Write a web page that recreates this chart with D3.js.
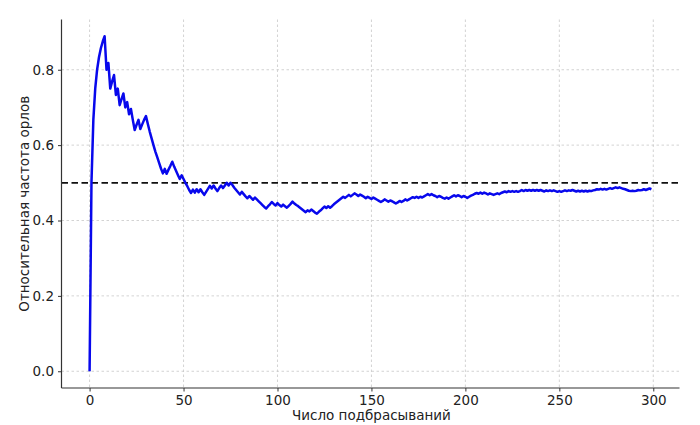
<!DOCTYPE html>
<html>
<head>
<meta charset="utf-8">
<script src="https://cdn.jsdelivr.net/npm/d3@7"></script>
<style>
  body { margin: 0; background: #fff; }
  svg { display: block; font-family: "DejaVu Sans", sans-serif; }
</style>
</head>
<body>
<svg width="700" height="425"></svg>
<script>
// running share of heads, one value per toss
var freq = [
  0.000, 0.500, 0.667, 0.750, 0.800, 0.833, 0.857, 0.875, 0.889, 0.800,
  0.818, 0.750, 0.769, 0.786, 0.733, 0.750, 0.706, 0.722, 0.737, 0.700,
  0.714, 0.682, 0.696, 0.667, 0.640, 0.654, 0.667, 0.643, 0.655, 0.667,
  0.677, 0.656, 0.636, 0.618, 0.600, 0.583, 0.568, 0.553, 0.538, 0.525,
  0.537, 0.524, 0.535, 0.545, 0.556, 0.543, 0.532, 0.521, 0.510, 0.520,
  0.510, 0.500, 0.491, 0.481, 0.473, 0.482, 0.474, 0.483, 0.475, 0.483,
  0.475, 0.468, 0.476, 0.484, 0.492, 0.485, 0.493, 0.485, 0.478, 0.486,
  0.493, 0.486, 0.493, 0.500, 0.493, 0.500, 0.494, 0.487, 0.481, 0.475,
  0.469, 0.476, 0.470, 0.464, 0.459, 0.465, 0.460, 0.455, 0.461, 0.456,
  0.451, 0.446, 0.441, 0.436, 0.432, 0.438, 0.443, 0.449, 0.444, 0.440,
  0.446, 0.441, 0.437, 0.442, 0.438, 0.434, 0.439, 0.444, 0.450, 0.445,
  0.441, 0.438, 0.434, 0.430, 0.426, 0.422, 0.427, 0.424, 0.429, 0.425,
  0.421, 0.418, 0.423, 0.427, 0.432, 0.437, 0.433, 0.438, 0.434, 0.438,
  0.443, 0.447, 0.451, 0.455, 0.459, 0.463, 0.460, 0.464, 0.468, 0.464,
  0.468, 0.472, 0.469, 0.465, 0.469, 0.466, 0.463, 0.459, 0.463, 0.460,
  0.457, 0.461, 0.458, 0.455, 0.452, 0.449, 0.452, 0.456, 0.453, 0.450,
  0.453, 0.451, 0.448, 0.445, 0.448, 0.452, 0.449, 0.452, 0.456, 0.453,
  0.456, 0.459, 0.462, 0.460, 0.463, 0.460, 0.463, 0.461, 0.464, 0.467,
  0.470, 0.467, 0.470, 0.467, 0.465, 0.462, 0.465, 0.463, 0.460, 0.458,
  0.461, 0.458, 0.461, 0.464, 0.467, 0.464, 0.467, 0.465, 0.462, 0.465,
  0.463, 0.460, 0.463, 0.466, 0.468, 0.471, 0.473, 0.471, 0.474, 0.471,
  0.474, 0.472, 0.469, 0.472, 0.470, 0.468, 0.470, 0.472, 0.470, 0.473,
  0.475, 0.477, 0.475, 0.478, 0.476, 0.478, 0.476, 0.478, 0.476, 0.478,
  0.481, 0.478, 0.481, 0.479, 0.481, 0.479, 0.481, 0.479, 0.481, 0.479,
  0.481, 0.479, 0.477, 0.480, 0.478, 0.480, 0.478, 0.480, 0.478, 0.476,
  0.478, 0.476, 0.478, 0.480, 0.478, 0.480, 0.479, 0.481, 0.479, 0.477,
  0.479, 0.477, 0.479, 0.477, 0.479, 0.477, 0.479, 0.478, 0.480, 0.481,
  0.483, 0.482, 0.484, 0.482, 0.484, 0.482, 0.484, 0.486, 0.484, 0.486,
  0.488, 0.486, 0.488, 0.486, 0.484, 0.483, 0.481, 0.479, 0.478, 0.479,
  0.478, 0.479, 0.481, 0.480, 0.481, 0.483, 0.481, 0.483, 0.485, 0.483
];
var expected = 0.5;
var xTicks = [0, 50, 100, 150, 200, 250, 300];
var yTicks = [0.0, 0.2, 0.4, 0.6, 0.8];
var xLabel = "Число подбрасываний";
var yLabel = "Относительная частота орлов";

var svg = d3.select("svg"),
    mLeft = 61.5, mRight = 679.5, mTop = 19.5, mBottom = 388;

var x = d3.scaleLinear().domain([-14.95, 313.95]).range([mLeft, mRight]);
var y = d3.scaleLinear().domain([-0.0444, 0.9333]).range([mBottom, mTop]);

// grid
var grid = svg.append("g").attr("stroke", "#c8c8c8").attr("stroke-width", 0.8)
    .attr("stroke-dasharray", "2.5,2.5");
grid.selectAll(".gx").data(xTicks).enter().append("line")
    .attr("x1", d => x(d)).attr("x2", d => x(d)).attr("y1", mTop).attr("y2", mBottom);
grid.selectAll(".gy").data(yTicks).enter().append("line")
    .attr("y1", d => y(d)).attr("y2", d => y(d)).attr("x1", mLeft).attr("x2", mRight);

// reference line at 0.5
svg.append("line")
    .attr("x1", mLeft).attr("x2", mRight)
    .attr("y1", y(expected)).attr("y2", y(expected))
    .attr("stroke", "#111").attr("stroke-width", 1.8)
    .attr("stroke-dasharray", "6.5,3.5");

var line = d3.line().x((d, i) => x(i)).y(d => y(d));
svg.append("path").datum(freq)
    .attr("d", line)
    .attr("fill", "none").attr("stroke", "#0808ec")
    .attr("stroke-width", 2.5).attr("stroke-linejoin", "round");

// axes
var xAxis = svg.append("g").attr("transform", "translate(0," + mBottom + ")")
    .call(d3.axisBottom(x).tickValues(xTicks).tickSize(3.5).tickPadding(4).tickFormat(d3.format("d")));
var yAxis = svg.append("g").attr("transform", "translate(" + mLeft + ",0)")
    .call(d3.axisLeft(y).tickValues(yTicks).tickSize(3.5).tickPadding(4).tickFormat(d3.format(".1f")));
[xAxis, yAxis].forEach(function(a) {
  a.select(".domain").attr("stroke", "#333").attr("stroke-width", 1.2);
  a.selectAll(".tick line").attr("stroke", "#333");
  a.selectAll("text").attr("font-size", 13.5).attr("fill", "#222")
      .attr("font-family", "DejaVu Sans, sans-serif");
});
xAxis.select(".domain").attr("d", "M" + mLeft + ",0H" + mRight);
yAxis.select(".domain").attr("d", "M0," + mTop + "V" + mBottom);

svg.append("text").attr("x", x(150)).attr("y", 420)
    .attr("text-anchor", "middle").attr("font-size", 13.5).attr("fill", "#222")
    .text(xLabel);
svg.append("text").attr("transform", "translate(29," + ((mTop + mBottom) / 2) + ") rotate(-90)")
    .attr("text-anchor", "middle").attr("font-size", 13.5).attr("fill", "#222")
    .text(yLabel);
</script>
</body>
</html>
